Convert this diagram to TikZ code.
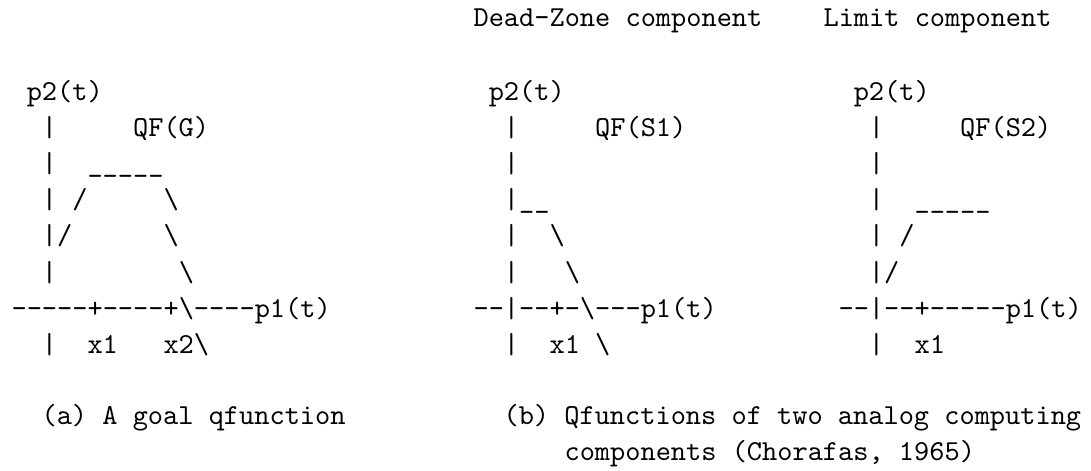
\documentclass[tikz,border=0pt]{standalone}
\begin{document}
\begin{tikzpicture}[x=0.3454pt, y=-0.3454pt,
  line/.style={anchor=base west, inner sep=0pt, font=\ttfamily\fontsize{10}{12}\selectfont}
]
\useasboundingbox (0,0) rectangle (1091,470);

% (a) goal qfunction
\begin{scope}[shift={(11,0)}]
  \node[line] (ga0) at (0,101) {~p2(t)};
  \node[line] (ga1) at (0,137) {~~|~~~~~QF(G)};
  \node[line] (ga2) at (0,173) {~~|~~\_\_\_\_\_};
  \node[line] (ga3) at (0,209) {~~|~/~~~~~\textbackslash};
  \node[line] (ga4) at (0,245) {~~|/~~~~~~\textbackslash};
  \node[line] (ga5) at (0,281) {~~|~~~~~~~~\textbackslash};
  \node[line] (ga6) at (0,317) {-----+----+\textbackslash----p1(t)};
  \node[line] (ga7) at (0,353) {~~|~~x1~~~x2\textbackslash};
  \node[line] (capa) at (30,424) {(a) A goal qfunction};
\end{scope}

% (b) dead-zone component
\begin{scope}[shift={(473,0)}]
  \node[line] (dzlabel) at (0,27) {Dead-Zone component};
  \node[line] (sa0) at (0,101) {~p2(t)};
  \node[line] (sa1) at (0,137) {~~|~~~~~QF(S1)};
  \node[line] (sa2) at (0,173) {~~|};
  \node[line] (sa3) at (0,209) {~~|\_\_};
  \node[line] (sa4) at (0,245) {~~|~~\textbackslash};
  \node[line] (sa5) at (0,281) {~~|~~~\textbackslash};
  \node[line] (sa6) at (0,317) {--|--+-\textbackslash---p1(t)};
  \node[line] (sa7) at (0,353) {~~|~~x1~\textbackslash};
  \node[line] (capb) at (30,424) {(b) Qfunctions of two analog computing};
  \node[line] (capb2) at (91,460) {components (Chorafas, 1965)};
\end{scope}

% (b) limit component
\begin{scope}[shift={(838,0)}]
  \node[line] (limlabel) at (-15,27) {Limit component};
  \node[line] (sb0) at (0,101) {~p2(t)};
  \node[line] (sb1) at (0,137) {~~|~~~~~QF(S2)};
  \node[line] (sb2) at (0,173) {~~|};
  \node[line] (sb3) at (0,209) {~~|~~\_\_\_\_\_};
  \node[line] (sb4) at (0,245) {~~|~/};
  \node[line] (sb5) at (0,281) {~~|/};
  \node[line] (sb6) at (0,317) {--|--+-----p1(t)};
  \node[line] (sb7) at (0,353) {~~|~~x1};
\end{scope}
\end{tikzpicture}
\end{document}
